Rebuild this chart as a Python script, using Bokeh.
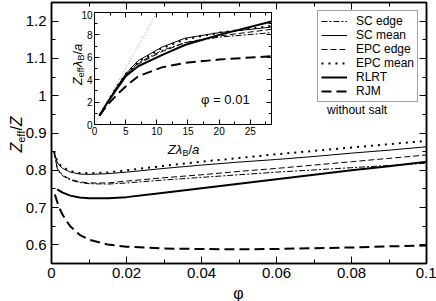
import math
from bokeh.plotting import figure
from bokeh.models import (Range1d, FixedTicker, LinearAxis, Label, Legend, LegendItem,
                          CustomJSTickFormatter)
from bokeh.embed import file_html
from bokeh.resources import INLINE

FONT = "Liberation Sans"

# ---------------- main panel data ----------------
phi_thin = [0.0007, 0.0015, 0.002, 0.003, 0.005, 0.0075, 0.01, 0.015, 0.02, 0.03,
            0.04, 0.05, 0.06, 0.07, 0.08, 0.09, 0.1]
sc_edge = [0.848, 0.806, 0.796, 0.785, 0.774, 0.767, 0.764, 0.763, 0.766, 0.774,
           0.781, 0.788, 0.795, 0.801, 0.807, 0.813, 0.819]
sc_mean = [0.850, 0.822, 0.814, 0.805, 0.795, 0.790, 0.789, 0.791, 0.795, 0.805,
           0.814, 0.822, 0.829, 0.837, 0.846, 0.854, 0.863]
epc_edge = [0.848, 0.808, 0.798, 0.787, 0.776, 0.769, 0.766, 0.766, 0.771, 0.780,
            0.788, 0.797, 0.805, 0.814, 0.823, 0.832, 0.841]
epc_mean = [0.850, 0.825, 0.817, 0.808, 0.798, 0.793, 0.792, 0.794, 0.800, 0.812,
            0.823, 0.833, 0.843, 0.852, 0.861, 0.870, 0.879]
phi_rlrt = [0.0015, 0.003, 0.005, 0.0075, 0.01, 0.015, 0.02, 0.03, 0.04, 0.05,
            0.06, 0.07, 0.08, 0.09, 0.1]
rlrt = [0.749, 0.740, 0.732, 0.727, 0.725, 0.725, 0.728, 0.740, 0.752, 0.764,
        0.776, 0.788, 0.800, 0.811, 0.823]
phi_rjm = [0.0009, 0.002, 0.003, 0.004, 0.005, 0.0075, 0.01, 0.015, 0.02, 0.03,
           0.04, 0.05, 0.06, 0.07, 0.08, 0.09, 0.1]
rjm = [0.735, 0.700, 0.680, 0.664, 0.650, 0.627, 0.614, 0.601, 0.595, 0.590,
       0.589, 0.588, 0.589, 0.591, 0.593, 0.596, 0.598]

x_ticks = [0, 0.02, 0.04, 0.06, 0.08, 0.1]
x_tick_labels = ["0", "0.02", "0.04", "0.06", "0.08", "0.1"]
x_minor = [0.01, 0.03, 0.05, 0.07, 0.09]
y_ticks = [0.6, 0.7, 0.8, 0.9, 1.0, 1.1, 1.2]
y_tick_labels = ["0.6", "0.7", "0.8", "0.9", "1", "1.1", "1.2"]
y_minor = [0.55, 0.65, 0.75, 0.85, 0.95, 1.05, 1.15, 1.25]

# ---------------- inset data ----------------
ins_x = [0.8, 2.0, 3.5, 5.0, 7.0, 10.8, 14.5, 20.0, 28.4]
ins_sc_edge = [0.8, 1.9, 3.2, 4.4, 5.5, 6.6, 7.3, 7.8, 8.2]
ins_sc_mean = [0.8, 1.9, 3.3, 4.5, 5.7, 6.9, 7.7, 8.2, 8.7]
ins_epc_edge = [0.8, 1.9, 3.2, 4.4, 5.4, 6.5, 7.3, 7.9, 8.5]
ins_epc_mean = [0.8, 1.9, 3.3, 4.5, 5.6, 6.8, 7.6, 8.2, 8.8]
ins_rlrt = [0.8, 1.9, 3.1, 4.3, 5.2, 6.2, 7.1, 8.0, 9.2]
ins_rjm = [0.8, 1.7, 2.6, 3.4, 4.3, 5.1, 5.5, 5.8, 6.1]
diag_x = [0, 10]
diag_y = [0, 10]
ins_x_ticks = [0, 5, 10, 15, 20, 25]
ins_x_minor = [2.5, 7.5, 12.5, 17.5, 22.5, 27.5]
ins_y_ticks = [0, 2, 4, 6, 8, 10]
ins_y_minor = [1, 3, 5, 7, 9]

# ---------------- styles ----------------
STY = {
    "SC edge": dict(line_width=1, line_dash="6 2 2 2"),
    "SC mean": dict(line_width=1, line_dash="solid"),
    "EPC edge": dict(line_width=1, line_dash="6 3"),
    "EPC mean": dict(line_width=2, line_dash="2 5"),
    "RLRT": dict(line_width=2, line_dash="solid"),
    "RJM": dict(line_width=2, line_dash="10 5"),
}

CW = {'Z': 0.611, 'e': 0.556, 'f': 0.278, '/': 0.278, 'a': 0.556, 'B': 0.667,
      'λ': 0.52, ' ': 0.278}


def tw(s, size):
    return sum(CW.get(c, 0.556) for c in s) * size


def style_axis(ax, ticks, minor, labels, show, size, tin, mtin, standoff, lw):
    ax.ticker = FixedTicker(ticks=ticks, minor_ticks=minor)
    ax.axis_line_color = "black"
    ax.axis_line_width = lw
    ax.major_tick_line_color = "black"
    ax.minor_tick_line_color = "black"
    ax.major_tick_line_width = 1
    ax.major_tick_in = tin
    ax.major_tick_out = 0
    ax.minor_tick_in = mtin
    ax.minor_tick_out = 0
    ax.major_label_text_font = FONT
    ax.major_label_text_color = "black"
    if show:
        ax.major_label_text_font_size = f"{size}px"
        ax.major_label_standoff = standoff
        if labels is not None:
            ax.major_label_overrides = {t: l for t, l in zip(ticks, labels)}
    else:
        ax.formatter = CustomJSTickFormatter(code="return ''")
        ax.major_label_text_font_size = "1px"
        ax.major_label_standoff = 0


# ---------------- main figure (page has no margin) ----------------
W, H = 436, 301
MB_L, MB_R, MB_T, MB_B = 51, 10, 2, 38
p = figure(width=W, height=H, x_range=Range1d(0, 0.1), y_range=Range1d(0.55, 1.25),
           output_backend="svg", toolbar_location=None,
           min_border_left=MB_L, min_border_right=MB_R, min_border_top=MB_T,
           min_border_bottom=MB_B)
p.xgrid.visible = False
p.ygrid.visible = False
p.outline_line_color = "black"
p.outline_line_width = 1.5
p.background_fill_color = "white"
p.border_fill_color = "white"

style_axis(p.xaxis[0], x_ticks, x_minor, x_tick_labels, True, 15, 7, 4, 4, 1.5)
style_axis(p.yaxis[0], y_ticks, y_minor, y_tick_labels, True, 15, 7, 4, 5, 1.5)
top_ax = LinearAxis()
style_axis(top_ax, x_ticks, x_minor, None, False, 0, 7, 4, 0, 1.5)
p.add_layout(top_ax, "above")
right_ax = LinearAxis()
style_axis(right_ax, y_ticks, y_minor, None, False, 0, 7, 4, 0, 1.5)
p.add_layout(right_ax, "right")

series = [("SC edge", phi_thin, sc_edge), ("SC mean", phi_thin, sc_mean),
          ("EPC edge", phi_thin, epc_edge), ("EPC mean", phi_thin, epc_mean),
          ("RLRT", phi_rlrt, rlrt), ("RJM", phi_rjm, rjm)]
items = []
for name, xs, ys in series:
    r = p.line(xs, ys, line_color="black", **STY[name])
    items.append(LegendItem(label=name, renderers=[r]))

legend = Legend(items=items, location="top_right")
legend.label_text_font = FONT
legend.label_text_font_size = "12px"
legend.label_text_line_height = 1.0
legend.label_text_color = "black"
legend.label_height = 12
legend.glyph_height = 12
legend.glyph_width = 26
legend.label_standoff = 9
legend.spacing = 0
legend.padding = 3
legend.margin = 8
legend.border_line_color = "#444444"
legend.border_line_width = 1
legend.background_fill_color = "white"
legend.background_fill_alpha = 1
p.add_layout(legend)

p.add_layout(Label(x=0.0815, y=0.962, text="without salt", text_align="center",
                   text_baseline="middle", text_font=FONT, text_font_size="12px",
                   text_color="black"))

# ---------------- inset figure ----------------
FW, FH = 177, 112
IB_L, IB_R, IB_T, IB_B = 34, 3, 2, 32
IN_LEFT, IN_TOP = 94, 12
q = figure(frame_width=FW, frame_height=FH, x_range=Range1d(0, 28.4),
           y_range=Range1d(0, 10), output_backend="svg", toolbar_location=None,
           min_border_left=IB_L, min_border_right=IB_R, min_border_top=IB_T,
           min_border_bottom=IB_B)
q.styles = {"position": "absolute", "left": f"{IN_LEFT - IB_L}px",
            "top": f"{IN_TOP - IB_T}px"}
q.xgrid.visible = False
q.ygrid.visible = False
q.outline_line_color = "black"
q.outline_line_width = 1
q.background_fill_color = "white"
q.border_fill_color = None

style_axis(q.xaxis[0], ins_x_ticks, ins_x_minor, None, True, 10, 5, 3, 2, 1)
style_axis(q.yaxis[0], ins_y_ticks, ins_y_minor, None, True, 10, 5, 3, 2, 1)
qt = LinearAxis()
style_axis(qt, ins_x_ticks, ins_x_minor, None, False, 0, 5, 3, 0, 1)
q.add_layout(qt, "above")
qr = LinearAxis()
style_axis(qr, ins_y_ticks, ins_y_minor, None, False, 0, 5, 3, 0, 1)
q.add_layout(qr, "right")

q.line(diag_x, diag_y, line_color="#9a9a9a", line_width=1, line_dash="1 2")
ins_series = [("SC edge", ins_sc_edge), ("SC mean", ins_sc_mean),
              ("EPC edge", ins_epc_edge), ("EPC mean", ins_epc_mean),
              ("RLRT", ins_rlrt), ("RJM", ins_rjm)]
for name, ys in ins_series:
    q.line(ins_x, ys, line_color="black", **STY[name])

q.add_layout(Label(x=21, y=2.2, text="φ = 0.01", text_align="center",
                   text_baseline="middle", text_font=FONT, text_font_size="13px",
                   text_color="black"))

# ---------------- transparent overlay for axis titles (page pixel coords) ----------------
o = figure(width=W, height=H, x_range=Range1d(0, W), y_range=Range1d(H, 0),
           output_backend="svg", toolbar_location=None, x_axis_type=None,
           y_axis_type=None, min_border=0)
o.styles = {"position": "absolute", "left": "0px", "top": "0px"}
o.xgrid.visible = False
o.ygrid.visible = False
o.outline_line_color = None
o.background_fill_color = None
o.border_fill_color = None


def lab(x, y, t, size, italic=False, angle=0.0, align="left", baseline="alphabetic"):
    o.add_layout(Label(x=x, y=y, text=t, angle=angle, text_align=align,
                       text_baseline=baseline, text_font=FONT,
                       text_font_size=f"{size}px",
                       text_font_style="italic" if italic else "normal",
                       text_color="black"))


def rich_vertical(pieces, x_base, y_center):
    total = sum(tw(t, s) for t, s, _, _ in pieces)
    y = y_center + total / 2
    for t, s, it, sh in pieces:
        lab(x_base + sh, y, t, s, it, angle=math.pi / 2)
        y -= tw(t, s)


def rich_horizontal(pieces, x_center, y_base):
    total = sum(tw(t, s) for t, s, _, _ in pieces)
    x = x_center - total / 2
    for t, s, it, sh in pieces:
        lab(x, y_base + sh, t, s, it)
        x += tw(t, s)


# main axis titles
lab(238, 293, "φ", 16, align="center", baseline="middle")
rich_vertical([("Z", 16, True, 0), ("eff", 11, False, 4), ("/", 16, False, 0),
               ("Z", 16, True, 0)], 16, 134)
# inset axis titles
rich_vertical([("Z", 13, True, 0), ("eff", 9, False, 3), ("λ", 13, True, 0),
               ("B", 9, False, 3), ("/", 13, False, 0), ("a", 13, True, 0)], 77, 64)
rich_horizontal([("Z", 13, True, 0), ("λ", 13, True, 0), ("B", 9, False, 3),
                 ("/", 13, False, 0), ("a", 13, True, 0)], 183, 149)

open("out.html", "w").write(file_html([p, q, o], INLINE))
